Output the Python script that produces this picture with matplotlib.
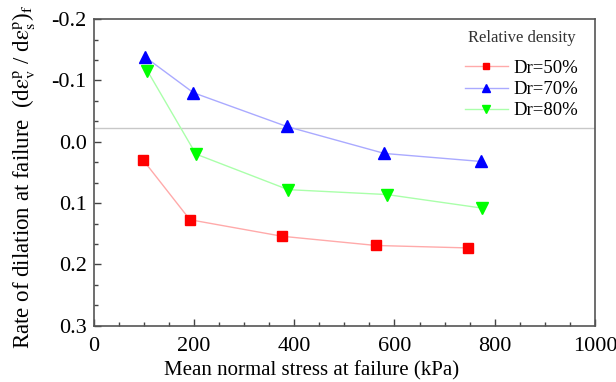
import matplotlib
matplotlib.use("Agg")
import matplotlib.pyplot as plt
from matplotlib.ticker import MultipleLocator

plt.rcParams['font.family'] = ['Liberation Serif', 'DejaVu Serif']
plt.rcParams['mathtext.fontset'] = 'stix'

series_names = ["Dr=50%", "Dr=70%", "Dr=80%"]
x_dr50 = [99, 192, 376, 563, 747]
y_dr50 = [0.030, 0.127, 0.154, 0.169, 0.173]
x_dr70 = [103, 199, 385, 580, 772]
y_dr70 = [-0.138, -0.080, -0.025, 0.019, 0.032]
x_dr80 = [107, 204, 388, 585, 774]
y_dr80 = [-0.116, 0.020, 0.078, 0.086, 0.108]
ref_line = -0.022

fig = plt.figure(figsize=(6.16, 3.82), dpi=100)
ax = fig.add_axes([0.152, 0.147, 0.814, 0.803])

ax.axhline(ref_line, color='#c8c8c8', lw=1.0, zorder=1)
ax.plot(x_dr50, y_dr50, color='#ffaaaa', lw=1.0, marker='s', ms=6.5,
        mfc='#ff0000', mec='#ff0000', label=series_names[0], zorder=3)
ax.plot(x_dr70, y_dr70, color='#aaaaff', lw=1.0, marker='^', ms=8,
        mfc='#0000ff', mec='#0000ff', label=series_names[1], zorder=3)
ax.plot(x_dr80, y_dr80, color='#aaffaa', lw=1.0, marker='v', ms=8,
        mfc='#00ff00', mec='#00ff00', label=series_names[2], zorder=3)

ax.set_xlim(0, 1000)
ax.set_ylim(0.3, -0.2)
ax.xaxis.set_major_locator(MultipleLocator(200))
ax.xaxis.set_minor_locator(MultipleLocator(50))
ax.yaxis.set_major_locator(MultipleLocator(0.1))
ax.yaxis.set_minor_locator(MultipleLocator(0.1/3))
ax.set_yticks([-0.2, -0.1, 0.0, 0.1, 0.2, 0.3])
ax.set_yticklabels(['-0.2', '-0.1', '0.0', '0.1', '0.2', '0.3'])
ax.tick_params(which='both', direction='in', top=False, right=False,
               labelsize=16, color='#444444')
ax.tick_params(axis='x', pad=8)
ax.tick_params(axis='y', pad=5)
ax.tick_params(which='major', length=5, width=1)
ax.tick_params(which='minor', length=3, width=1)
for s in ax.spines.values():
    s.set_color('#555555')
    s.set_linewidth(1.2)

ax.set_xlabel('Mean normal stress at failure (kPa)', fontsize=15)
ax.xaxis.set_label_coords(0.435, -0.115)
ax.set_ylabel(r'Rate of dilation at failure  (d$\mathrm{\varepsilon}_\mathrm{v}^\mathrm{p}$ / d$\mathrm{\varepsilon}_\mathrm{s}^\mathrm{p}$)$_\mathrm{f}$',
              fontsize=16.5)
ax.yaxis.set_label_coords(-0.112, 0.485)

leg = ax.legend(title='Relative density', loc='upper right', frameon=False,
                fontsize=13.5, title_fontsize=12, handlelength=2.3,
                handletextpad=0.3, labelspacing=0.22, markerscale=0.7,
                bbox_to_anchor=(1.0, 1.02))
leg.get_title().set_color('#333333')
leg._legend_box.sep = 10

fig.savefig('out.png', dpi=100)
